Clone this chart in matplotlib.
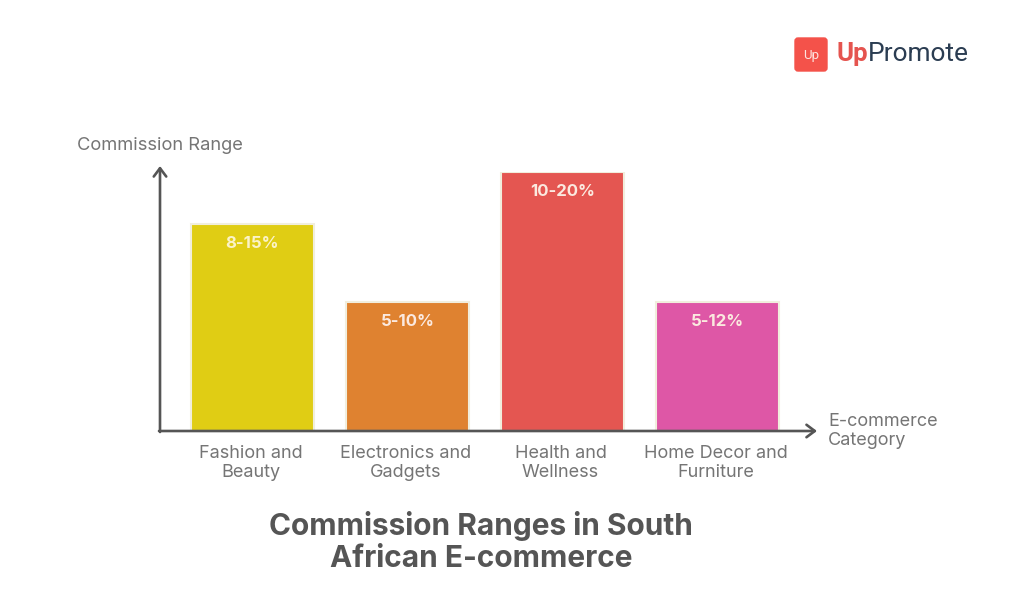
import matplotlib
matplotlib.use('Agg')
import matplotlib.pyplot as plt
from matplotlib.patches import FancyBboxPatch

plt.rcParams['font.family'] = ['Inter', 'DejaVu Sans']

categories = ['Fashion and\nBeauty', 'Electronics and\nGadgets', 'Health and\nWellness', 'Home Decor and\nFurniture']
# bar heights are schematic in the picture, read as share of the tallest bar
heights = [80, 50, 100, 50]
labels = ['8-15%', '5-10%', '10-20%', '5-12%']
colors = ['#E0CD14', '#DF8230', '#E45651', '#DE57A6']

W, H = 1024, 611
fig = plt.figure(figsize=(W / 100, H / 100), dpi=100, facecolor='white')

# main axes, placed in pixels: baseline at y=431, 100 units = 259 px
left, right, top, bottom = 160, 820, 172, 431
ax = fig.add_axes([left / W, 1 - bottom / H, (right - left) / W, (bottom - top) / H])
ax.set_xlim((left - 252.5) / 155, (right - 252.5) / 155)
ax.set_ylim(0, 100)
ax.axis('off')

ax.bar(range(4), heights, width=123 / 155, color=colors, edgecolor='#F1EEDD', linewidth=1.5, zorder=2)
for i in range(4):
    ax.annotate(labels[i], (i, heights[i]), xytext=(0, -20), textcoords='offset pixels',
                ha='center', va='center', color='#FBF3C8' if i == 0 else '#FBE9DF',
                fontsize=12, fontweight='bold', zorder=3)
    ax.annotate(categories[i], (i, 0), xytext=(-2, -32), textcoords='offset pixels',
                ha='center', va='center', color='#757575', fontsize=13, linespacing=1.13)

# overlay in pixel coords for axis arrows, captions and logo
ov = fig.add_axes([0, 0, 1, 1], facecolor='none')
ov.set_xlim(0, W)
ov.set_ylim(H, 0)
ov.axis('off')

arrow = dict(arrowstyle='->,head_length=0.6,head_width=0.45', color='#555555', lw=1.9, shrinkA=0, shrinkB=0)
ov.annotate('', xy=(160, 166), xytext=(160, 432), arrowprops=arrow, zorder=4)
ov.annotate('', xy=(817, 431), xytext=(159, 431), arrowprops=arrow, zorder=4)

ov.text(77, 146, 'Commission Range', ha='left', va='center', color='#757575', fontsize=13.2)
ov.text(828, 431, 'E-commerce\nCategory', ha='left', va='center', color='#757575', fontsize=13, linespacing=1.08)
ov.text(481, 542, 'Commission Ranges in South\nAfrican E-commerce', ha='center', va='center',
        color='#555555', fontsize=21.5, fontweight='bold', linespacing=1.2)

ov.add_patch(FancyBboxPatch((795, 38), 32, 33, boxstyle='round,pad=0,rounding_size=3', fc='#F4524A', ec='#F4524A', lw=1))
ov.text(811, 55, 'Up', ha='center', va='center', color='#FDE3DF', fontsize=9.5, family='Roboto')
t = ov.text(836, 54, 'Up', ha='left', va='center', color='#E5544F', fontsize=18.5, fontweight='bold', family='Roboto')
ov.annotate('Promote', xy=(1, 0.5), xycoords=t, ha='left', va='center', color='#2B3D52', fontsize=19, family='Roboto')

fig.savefig('out.png', dpi=100)
